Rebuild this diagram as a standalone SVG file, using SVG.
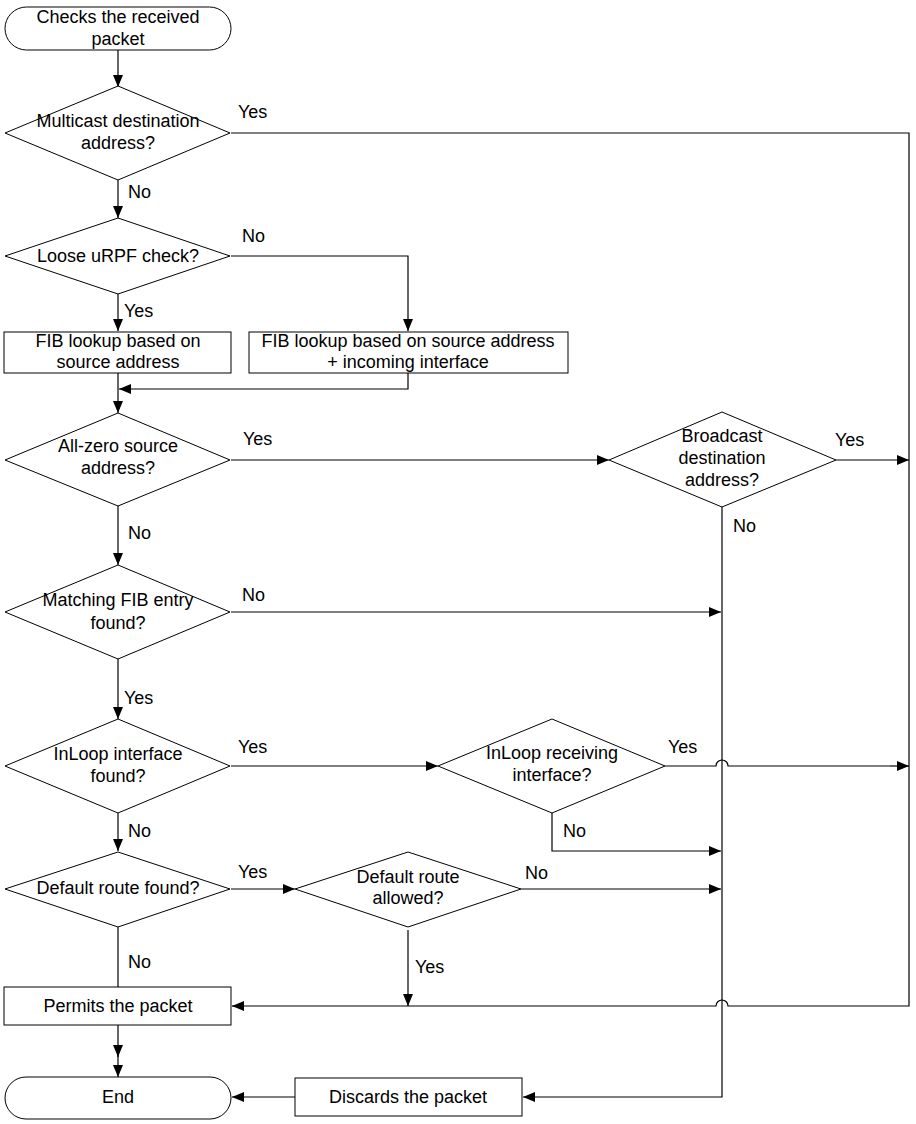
<svg xmlns="http://www.w3.org/2000/svg" width="916" height="1124" viewBox="0 0 916 1124">
<style>
.n{fill:#fff;stroke:#000;stroke-width:1}
.t{font-family:"Liberation Sans",Arial,sans-serif;font-size:18px;fill:#000;text-anchor:middle}
.l{font-family:"Liberation Sans",Arial,sans-serif;font-size:18px;fill:#000}
.c{fill:none;stroke:#000;stroke-width:1.2;marker-end:url(#ah)}
.p{fill:none;stroke:#000;stroke-width:1.2}
</style>
<defs>
<marker id="ah" markerUnits="userSpaceOnUse" markerWidth="13" markerHeight="11" refX="12" refY="5" orient="auto">
<path d="M0,0 L12,5 L0,10 z" fill="#000"/>
</marker>
</defs>
<rect width="916" height="1124" fill="#fff"/>
<g id="connectors">
<path class="c" d="M118,50 V87"/>
<path class="p" d="M231,133 H909 V1006 H728 A6,6 0 0 0 716,1006 H243"/>
<path class="c" d="M243,1006 H232"/>
<path class="c" d="M118,180 V218"/>
<path class="c" d="M231,256 H408 V331"/>
<path class="c" d="M118,294 V331"/>
<path class="c" d="M408,373 V389 H119"/>
<path class="c" d="M118,373 V413"/>
<path class="c" d="M231,460 H609"/>
<path class="c" d="M836,460 H909"/>
<path class="c" d="M722,507 V1097 H523"/>
<path class="c" d="M118,506 V565"/>
<path class="c" d="M231,612 H721"/>
<path class="c" d="M118,659 V719"/>
<path class="c" d="M231,766 H438"/>
<path class="p" d="M665,766 H716 A6,6 0 0 1 728,766 H890"/>
<path class="c" d="M890,766 H909"/>
<path class="c" d="M552,813 V851 H721"/>
<path class="c" d="M118,813 V851"/>
<path class="c" d="M231,889 H295"/>
<path class="c" d="M521,889 H721"/>
<path class="c" d="M408,930 V1006"/>
<path class="p" d="M118,927 V987"/>
<path class="c" d="M118,1025 V1057"/>
<path class="c" d="M118,1055 V1077"/>
<path class="c" d="M295,1097 H232"/>
</g>
<g id="start">
<rect class="n" x="5" y="7" width="226" height="43" rx="21.5" ry="21.5"/>
<text class="t" x="118" y="23">Checks the received</text>
<text class="t" x="118" y="45">packet</text>
</g>
<g id="multicast">
<polygon class="n" points="118,86 230,133 118,180 5,133"/>
<text class="t" x="118" y="127">Multicast destination</text>
<text class="t" x="118" y="149">address?</text>
</g>
<g id="loose">
<polygon class="n" points="118,218 230,256 118,294 5,256"/>
<text class="t" x="118" y="262">Loose uRPF check?</text>
</g>
<g id="fib1">
<rect class="n" x="4" y="332" width="227" height="41"/>
<text class="t" x="118" y="347">FIB lookup based on</text>
<text class="t" x="118" y="368">source address</text>
</g>
<g id="fib2">
<rect class="n" x="249" y="332" width="319" height="41"/>
<text class="t" x="408" y="347">FIB lookup based on source address</text>
<text class="t" x="408" y="368">+ incoming interface</text>
</g>
<g id="allzero">
<polygon class="n" points="118,413 230,460 118,506 5,460"/>
<text class="t" x="118" y="452">All-zero source</text>
<text class="t" x="118" y="474">address?</text>
</g>
<g id="broadcast">
<polygon class="n" points="722,412 836,460 722,507 609,460"/>
<text class="t" x="722" y="442">Broadcast</text>
<text class="t" x="722" y="464">destination</text>
<text class="t" x="722" y="486">address?</text>
</g>
<g id="matching">
<polygon class="n" points="118,565 230,612 118,659 5,612"/>
<text class="t" x="118" y="606">Matching FIB entry</text>
<text class="t" x="118" y="629">found?</text>
</g>
<g id="inloop">
<polygon class="n" points="118,719 230,766 118,813 5,766"/>
<text class="t" x="118" y="760">InLoop interface</text>
<text class="t" x="118" y="782">found?</text>
</g>
<g id="inloopRecv">
<polygon class="n" points="552,719 665,766 552,813 438,766"/>
<text class="t" x="552" y="759">InLoop receiving</text>
<text class="t" x="552" y="781">interface?</text>
</g>
<g id="defaultFound">
<polygon class="n" points="118,852 230,889 118,927 5,889"/>
<text class="t" x="118" y="894">Default route found?</text>
</g>
<g id="defaultAllowed">
<polygon class="n" points="408,852 521,889 408,927 295,889"/>
<text class="t" x="408" y="883">Default route</text>
<text class="t" x="408" y="904">allowed?</text>
</g>
<g id="permit">
<rect class="n" x="4" y="987" width="227" height="38"/>
<text class="t" x="118" y="1012">Permits the packet</text>
</g>
<g id="end">
<rect class="n" x="5" y="1077" width="226" height="42" rx="21" ry="21"/>
<text class="t" x="118" y="1103">End</text>
</g>
<g id="discard">
<rect class="n" x="295" y="1078" width="227" height="38"/>
<text class="t" x="408" y="1103">Discards the packet</text>
</g>
<g id="labels">
<text class="l" x="238" y="118">Yes</text>
<text class="l" x="128" y="198">No</text>
<text class="l" x="242" y="242">No</text>
<text class="l" x="124" y="317">Yes</text>
<text class="l" x="243" y="445">Yes</text>
<text class="l" x="835" y="446">Yes</text>
<text class="l" x="733" y="532">No</text>
<text class="l" x="128" y="539">No</text>
<text class="l" x="242" y="601">No</text>
<text class="l" x="124" y="704">Yes</text>
<text class="l" x="238" y="753">Yes</text>
<text class="l" x="668" y="753">Yes</text>
<text class="l" x="563" y="837">No</text>
<text class="l" x="128" y="837">No</text>
<text class="l" x="238" y="878">Yes</text>
<text class="l" x="525" y="879">No</text>
<text class="l" x="128" y="968">No</text>
<text class="l" x="415" y="973">Yes</text>
</g>
</svg>
